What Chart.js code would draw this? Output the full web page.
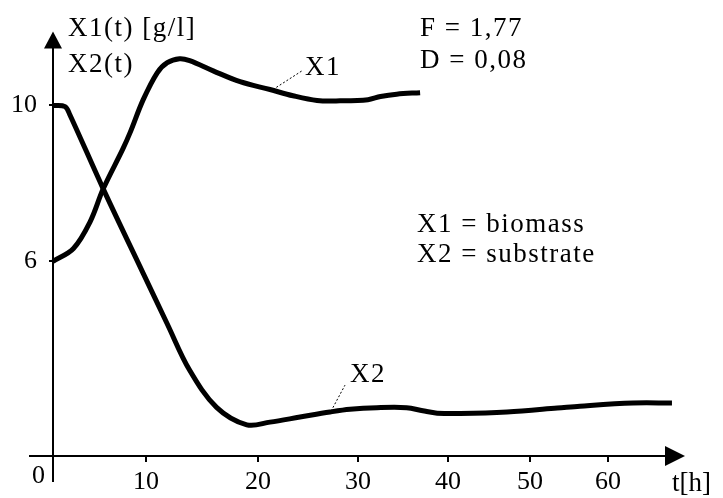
<!DOCTYPE html>
<html>
<head>
<meta charset="utf-8">
<script src="https://cdn.jsdelivr.net/npm/chart.js@4.4.1/dist/chart.umd.min.js"></script>
<style>
html,body{margin:0;padding:0;background:#fff}
canvas{display:block}
</style>
</head>
<body>
<canvas id="myChart" width="723" height="498"></canvas>
<script>
// X1 = biomass, X2 = substrate, time in hours
var x1Hours = [0, 2.2, 4.0, 5.4, 7.5, 8.3, 9.7, 11.0, 11.9, 13.0, 13.9, 16.0, 18.4, 21.2, 23.5, 25.9, 28.2, 31.1, 32.5, 34.3, 36.9]
var x1Values = [6.0, 6.33, 7.02, 7.86, 8.88, 9.31, 10.15, 10.84, 11.10, 11.20, 11.15, 10.89, 10.61, 10.41, 10.25, 10.13, 10.12, 10.15, 10.23, 10.29, 10.33]
var x2Hours = [0, 1.3, 1.8, 5.4, 9.7, 11.9, 13.9, 16.3, 19.0, 21.2, 24.2, 27.2, 29.2, 32.1, 35.4, 37.2, 38.8, 41.5, 47.2, 53.5, 56.4, 63.2, 68.2]
var x2Values = [10.0, 9.97, 9.77, 7.86, 5.69, 4.39, 3.20, 2.25, 1.80, 1.87, 2.00, 2.13, 2.20, 2.24, 2.24, 2.16, 2.10, 2.09, 2.13, 2.23, 2.28, 2.36, 2.36]
var xTickHours = [10, 20, 30, 40, 50, 60]
var yTickValues = [6, 10]

// the time axis of the original is drawn with uneven spacing
var warpHours = [0, 10, 20, 30, 40, 50, 60, 70]
var warpGaps = [93, 112, 100, 90, 82, 78, 78]
var warpTotal = warpGaps.reduce((s, g) => s + g, 0)

function warp(h) {
    let cum = 0
    for (let i = 0; i < warpGaps.length; i++) {
        let h0 = warpHours[i], h1 = warpHours[i + 1]
        if (h <= h1 || i == warpGaps.length - 1) {
            return (cum + (h - h0) / (h1 - h0) * warpGaps[i]) / warpTotal
        }
        cum += warpGaps[i]
    }
}
function unwarp(d) {
    let p = d * warpTotal, cum = 0
    for (let i = 0; i < warpGaps.length; i++) {
        if (p <= cum + warpGaps[i] || i == warpGaps.length - 1) {
            return warpHours[i] + (p - cum) / warpGaps[i] * (warpHours[i + 1] - warpHours[i])
        }
        cum += warpGaps[i]
    }
}

class WarpScale extends Chart.LinearScale {
    getPixelForValue(value) {
        return value === null || isNaN(value) ? NaN : this.getPixelForDecimal(warp(value))
    }
    getValueForPixel(pixel) {
        return unwarp(this.getDecimalForPixel(pixel))
    }
}
WarpScale.id = 'warp'
WarpScale.defaults = Chart.LinearScale.defaults
Chart.register(WarpScale)

var serif = '"Liberation Serif", "Times New Roman", serif'

var sketchPlugin = {
    id: 'sketch',
    afterDraw(chart) {
        let c = chart.ctx, a = chart.chartArea
        let xs = chart.scales.x, ys = chart.scales.y
        let ox = Math.round(xs.getPixelForValue(0)), oy = Math.round(ys.getPixelForValue(ys.min))
        c.save()
        c.strokeStyle = '#000'
        c.fillStyle = '#000'
        c.lineWidth = 2
        c.beginPath()
        c.moveTo(ox, oy + 26)
        c.lineTo(ox, a.top + 20)
        c.moveTo(ox - 24, oy)
        c.lineTo(a.right - 20, oy)
        c.stroke()
        // arrow heads
        c.beginPath()
        c.moveTo(ox, a.top + 4)
        c.lineTo(ox - 9, a.top + 21)
        c.lineTo(ox + 9, a.top + 21)
        c.closePath()
        c.fill()
        c.beginPath()
        c.moveTo(a.right - 1, oy)
        c.lineTo(a.right - 21, oy - 10)
        c.lineTo(a.right - 21, oy + 10)
        c.closePath()
        c.fill()

        // leader lines to the curve labels
        c.lineWidth = 1
        c.setLineDash([2, 2])
        c.beginPath()
        c.moveTo(xs.getPixelForValue(21.5), ys.getPixelForValue(10.41))
        c.lineTo(xs.getPixelForValue(24.4), ys.getPixelForValue(10.89))
        c.moveTo(xs.getPixelForValue(27.3), ys.getPixelForValue(2.15))
        c.lineTo(xs.getPixelForValue(28.7), ys.getPixelForValue(2.82))
        c.stroke()
        c.setLineDash([])

        c.textAlign = 'left'
        c.textBaseline = 'alphabetic'
        c.font = '26px ' + serif
        c.fillText('0', ox - 21, oy + 27)
        c.font = '27px ' + serif
        c.letterSpacing = '1.5px'
        c.fillText('X1(t) [g/l]', 68, 36)
        c.fillText('X2(t)', 68, 72)
        c.fillText('F = 1,77', 420, 36)
        c.fillText('D = 0,08', 420, 68)
        c.fillText('X1 = biomass', 417, 232)
        c.fillText('X2 = substrate', 417, 262)
        c.fillText('X1', xs.getPixelForValue(24.7), ys.getPixelForValue(10.79))
        c.fillText('X2', xs.getPixelForValue(29.2), ys.getPixelForValue(2.89))
        c.letterSpacing = '0px'
        c.fillText('t[h]', a.right - 14, oy + 35)
        c.restore()
    }
}

var ctx = document.getElementById('myChart').getContext('2d')
var myChart = new Chart(ctx, {
    type: 'line',
    data: {
        datasets: [
            {
                label: 'X1',
                data: x1Hours.map((h, i) => ({x: h, y: x1Values[i]})),
                borderColor: '#000',
                borderWidth: 5,
                pointRadius: 0,
                fill: false,
                tension: 0.35,
                clip: false
            },
            {
                label: 'X2',
                data: x2Hours.map((h, i) => ({x: h, y: x2Values[i]})),
                borderColor: '#000',
                borderWidth: 5,
                pointRadius: 0,
                fill: false,
                tension: 0.35,
                clip: false
            }
        ]
    },
    options: {
        responsive: false,
        animation: false,
        devicePixelRatio: 1,
        layout: {padding: {top: 24, right: 37, left: 0, bottom: 0}},
        plugins: {legend: {display: false}, tooltip: {enabled: false}},
        scales: {
            x: {
                type: 'warp',
                min: 0,
                max: 70,
                afterFit: s => { s.height = 42 },
                afterBuildTicks: s => { s.ticks = xTickHours.map(v => ({value: v})) },
                border: {display: false},
                grid: {drawOnChartArea: false, drawTicks: true, tickLength: 6, color: '#000', lineWidth: 2},
                ticks: {
                    color: '#000',
                    font: {family: serif, size: 26},
                    padding: 5,
                    maxRotation: 0,
                    autoSkip: false,
                    callback: v => String(v)
                }
            },
            y: {
                type: 'linear',
                min: 1,
                max: 12,
                afterFit: s => { s.width = 53 },
                afterBuildTicks: s => { s.ticks = yTickValues.map(v => ({value: v})) },
                border: {display: false},
                grid: {drawOnChartArea: false, drawTicks: true, tickLength: 4, color: '#000', lineWidth: 2},
                ticks: {
                    color: '#000',
                    font: {family: serif, size: 26},
                    padding: 12,
                    callback: v => String(v)
                }
            }
        }
    },
    plugins: [sketchPlugin]
})
</script>
</body>
</html>
